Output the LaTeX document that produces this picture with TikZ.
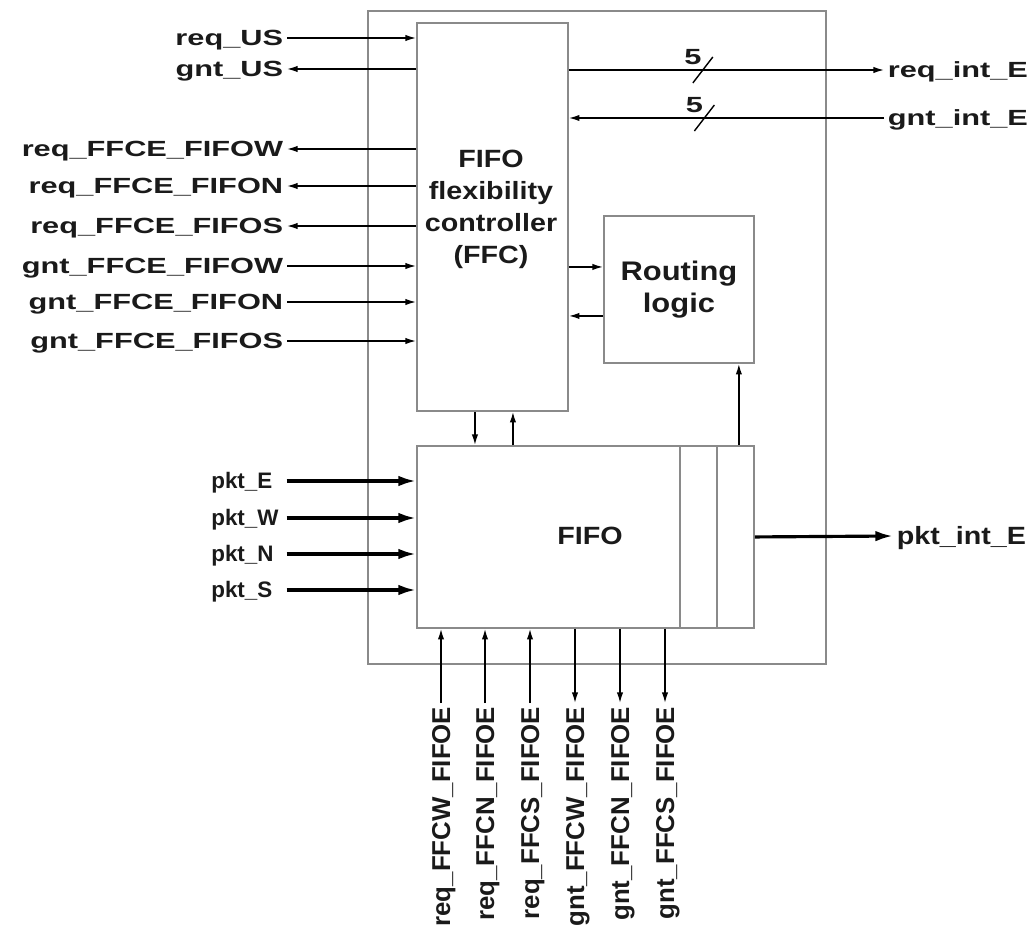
\documentclass[tikz,border=0pt]{standalone}
\usepackage{fontspec}
\setmainfont{Liberation Sans}
\newfontfamily\widesans{Liberation Sans}[FakeStretch=1.4]
\newfontfamily\midsans{Liberation Sans}[FakeStretch=1.15]
\usetikzlibrary{positioning,arrows.meta}
\definecolor{boxgray}{HTML}{8A8A8A}
\definecolor{inkblack}{HTML}{1A1A1A}
\tikzset{
  blk/.style={draw=boxgray, line width=1.1pt, inner sep=0pt, anchor=north west},
  sig/.style={font=\widesans\bfseries\fontsize{12.5}{14}\selectfont, text=inkblack,
    inner xsep=2pt, inner ysep=0pt, text height=8.9pt, text depth=0pt},
  pktlbl/.style={font=\bfseries\fontsize{12.75}{14}\selectfont, text=inkblack, anchor=west,
    inner sep=0pt, text width=1.5cm, align=left, text height=9.1pt, text depth=0pt},
  botlbl/.style={font=\bfseries\fontsize{14.7}{16}\selectfont, text=inkblack, rotate=90,
    anchor=east, inner xsep=2pt, inner ysep=0pt, text height=10.5pt, text depth=0pt},
  midtext/.style={font=\midsans\bfseries\fontsize{14.2}{18.2}\selectfont, text=inkblack, align=center},
  wire/.style={line width=0.8pt, -{Latex[length=6pt,width=3.6pt]}},
  bus/.style={line width=1.8pt, -{Latex[length=10pt,width=6pt]}},
}
\begin{document}
\begin{tikzpicture}[x=0.02cm,y=-0.02cm]
  \useasboundingbox (0,0) rectangle (1035,936);
  \node[blk, minimum width=9.16cm, minimum height=13.06cm] (rtr) at (367,10) {};
  \node[blk, minimum width=3.02cm, minimum height=7.76cm] (ffc) at (416,22) {};
  \node[midtext] (ffctxt) at (491,209) {FIFO\\flexibility\\controller\\(FFC)};
  \node[blk, minimum width=3.0cm, minimum height=2.94cm, midtext,
    font=\midsans\bfseries\fontsize{15.3}{18.2}\selectfont] (rl) at (603,215) {Routing\\logic};
  \node[blk, minimum width=6.74cm, minimum height=3.64cm] (fifo) at (416,445) {};
  \node[midtext] (fifotxt) at (590,536) {FIFO};
  \draw[boxgray, line width=1.1pt] ([xshift=-1.5cm]fifo.north east) -- ([xshift=-1.5cm]fifo.south east);
  \draw[boxgray, line width=1.1pt] ([xshift=-0.76cm]fifo.north east) -- ([xshift=-0.76cm]fifo.south east);

  \node[sig, anchor=east] (rqus) at (287,38)  {req\_US};
  \node[sig, anchor=east] (gnus) at (287,69)  {gnt\_US};
  \node[sig, anchor=east] (rqw)  at (287,149) {req\_FFCE\_FIFOW};
  \node[sig, anchor=east] (rqn)  at (287,186) {req\_FFCE\_FIFON};
  \node[sig, anchor=east] (rqs)  at (287,226) {req\_FFCE\_FIFOS};
  \node[sig, anchor=east] (gnw)  at (287,266) {gnt\_FFCE\_FIFOW};
  \node[sig, anchor=east] (gnn)  at (287,302) {gnt\_FFCE\_FIFON};
  \node[sig, anchor=east] (gns)  at (287,341) {gnt\_FFCE\_FIFOS};
  \draw[wire] (rqus.east) -- (rqus.east -| ffc.west);
  \draw[wire] (gnus.east -| ffc.west) -- (gnus.east);
  \draw[wire] (rqw.east -| ffc.west) -- (rqw.east);
  \draw[wire] (rqn.east -| ffc.west) -- (rqn.east);
  \draw[wire] (rqs.east -| ffc.west) -- (rqs.east);
  \draw[wire] (gnw.east) -- (gnw.east -| ffc.west);
  \draw[wire] (gnn.east) -- (gnn.east -| ffc.west);
  \draw[wire] (gns.east) -- (gns.east -| ffc.west);

  \node[sig, anchor=west] (rqint) at (884,70)  {req\_int\_E};
  \node[sig, anchor=west] (gnint) at (884,118) {gnt\_int\_E};
  \draw[wire] (rqint.west -| ffc.east) -- coordinate[pos=.425] (s1) (rqint.west);
  \draw[wire] (gnint.west) -- coordinate[pos=.57] (s2) (gnint.west -| ffc.east);
  \draw[line width=0.8pt] ([shift={(-10,13)}]s1) -- ([shift={(10,-13)}]s1);
  \draw[line width=0.8pt] ([shift={(-10,13)}]s2) -- ([shift={(10,-13)}]s2);
  \node[sig] (w1) at ([shift={(-10,-13)}]s1) {5};
  \node[sig] (w2) at ([shift={(-10,-13)}]s2) {5};

  \coordinate (rl1) at ([yshift=0.45cm]rl.west);
  \coordinate (rl2) at ([yshift=-0.53cm]rl.west);
  \draw[wire] (ffc.east |- rl1) -- (rl1);
  \draw[wire] (rl2) -- (ffc.east |- rl2);
  \coordinate (fd) at ([xshift=-0.35cm]ffc.south);
  \coordinate (fu) at ([xshift=0.41cm]ffc.south);
  \draw[wire] (fd) -- (fd |- fifo.north);
  \draw[wire] (fu |- fifo.north) -- (fu);
  \coordinate (ru) at ([xshift=-0.32cm]fifo.north east);
  \draw[wire] (ru) -- (ru |- rl.south);

  \node[pktlbl] (pe) at (211,481) {pkt\_E};
  \node[pktlbl] (pw) at (211,518) {pkt\_W};
  \node[pktlbl] (pn) at (211,554) {pkt\_N};
  \node[pktlbl] (ps) at (211,590) {pkt\_S};
  \draw[bus] (pe.east) -- (pe.east -| fifo.west);
  \draw[bus] (pw.east) -- (pw.east -| fifo.west);
  \draw[bus] (pn.east) -- (pn.east -| fifo.west);
  \draw[bus] (ps.east) -- (ps.east -| fifo.west);
  \node[midtext, anchor=west, inner xsep=2pt, text height=10.2pt, text depth=0pt] (pint) at (893,536) {pkt\_int\_E};
  \draw[bus] (fifo.east) -- (pint.west);

  \node[botlbl] (rfw) at (441,703) {req\_FFCW\_FIFOE};
  \node[botlbl] (rfn) at (485,703) {req\_FFCN\_FIFOE};
  \node[botlbl] (rfs) at (530,703) {req\_FFCS\_FIFOE};
  \node[botlbl] (gfw) at (575,703) {gnt\_FFCW\_FIFOE};
  \node[botlbl] (gfn) at (620,703) {gnt\_FFCN\_FIFOE};
  \node[botlbl] (gfs) at (665,703) {gnt\_FFCS\_FIFOE};
  \draw[wire] (rfw.east) -- (rfw.east |- fifo.south);
  \draw[wire] (rfn.east) -- (rfn.east |- fifo.south);
  \draw[wire] (rfs.east) -- (rfs.east |- fifo.south);
  \draw[wire] (gfw.east |- fifo.south) -- (gfw.east);
  \draw[wire] (gfn.east |- fifo.south) -- (gfn.east);
  \draw[wire] (gfs.east |- fifo.south) -- (gfs.east);
\end{tikzpicture}
\end{document}
